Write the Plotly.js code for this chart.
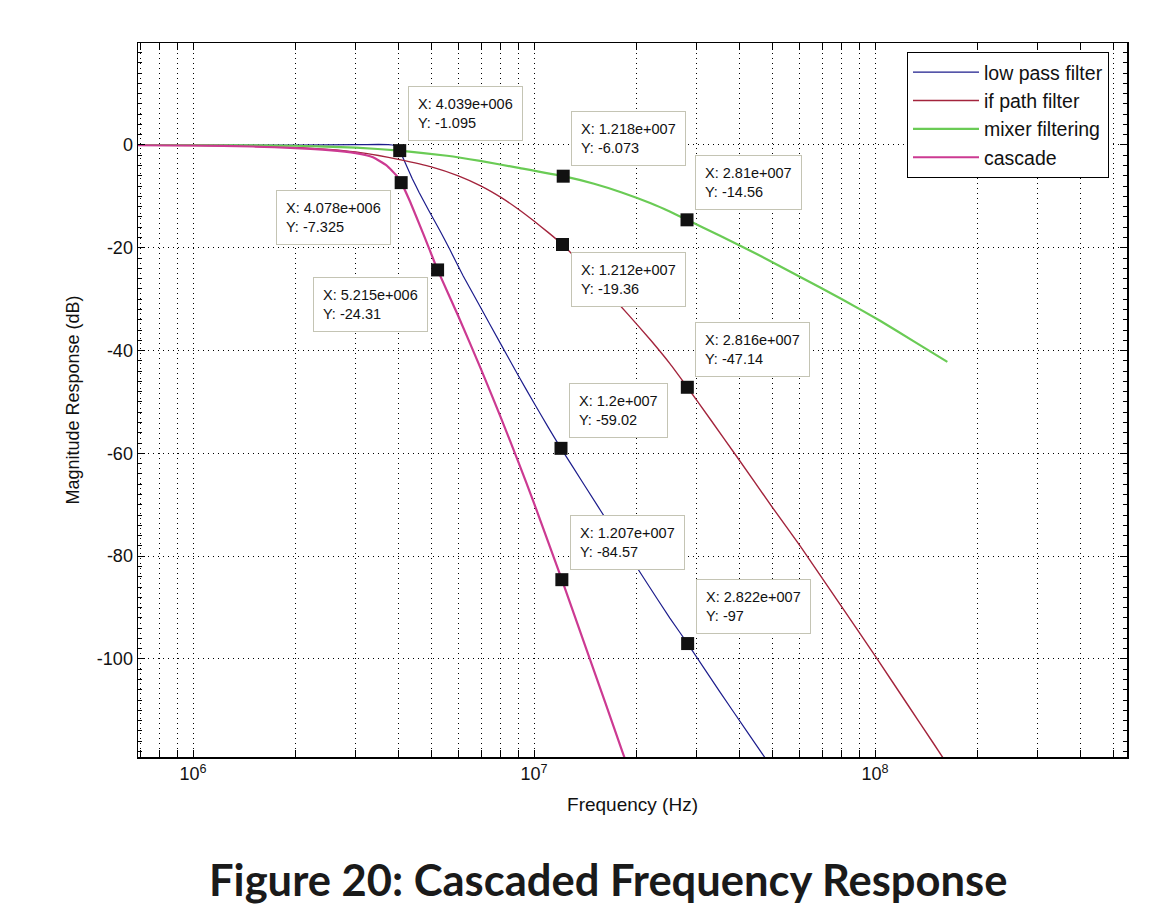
<!DOCTYPE html>
<html>
<head>
<meta charset="utf-8">
<script src="https://cdn.plot.ly/plotly-3.0.1.min.js"></script>
<style>
  html, body { margin: 0; padding: 0; background: #ffffff; }
  #chart { width: 1162px; height: 910px; }
</style>
</head>
<body>
<div id="chart"></div>
<script>
// ---- Data ----
const seriesNames = ["low pass filter", "if path filter", "mixer filtering", "cascade"];

const lpFreq = [6.9e5, 1e6, 2e6, 3e6, 3.5e6, 3.84e6, 3.96e6, 4.039e6, 4.2e6, 4.4e6, 4.6e6, 4.9e6, 5.3e6, 5.67e6, 6.2e6, 7.0e6, 8.0e6, 9.0e6, 1.0e7, 1.1e7, 1.2e7, 1.4e7, 1.7e7, 2.1e7, 2.5e7, 2.822e7, 3.5e7, 4.2e7, 4.7e7, 5.0e7];
const lpDb   = [0, 0, 0, 0.05, 0.1, 0, -0.4, -1.095, -3.6, -6.6, -9.2, -12.6, -16.7, -20.4, -25.5, -31.8, -38.8, -44.9, -50.2, -54.9, -59.02, -66.0, -74.8, -84.3, -92.0, -97, -106.3, -114.0, -118.7, -121.3];

const ifFreq = [6.9e5, 1e6, 1.5e6, 2e6, 2.5e6, 3e6, 3.5e6, 4e6, 5e6, 6e6, 7e6, 8e6, 9e6, 1e7, 1.1e7, 1.212e7, 1.4e7, 1.6e7, 1.89e7, 2.2e7, 2.5e7, 2.816e7, 3.3e7, 3.94e7, 5e7, 6.03e7, 8e7, 1.01e8, 1.25e8, 1.48e8, 1.6e8];
const ifDb   = [-0.05, -0.1, -0.25, -0.5, -0.85, -1.35, -2.05, -2.8, -4.25, -6.0, -8.0, -10.2, -12.5, -14.8, -17.0, -19.36, -23.6, -27.7, -33.0, -38.0, -42.5, -47.14, -53.5, -60.7, -70.5, -78.0, -89.9, -99.8, -109.0, -116.3, -119.7];

const mixFreq = [6.9e5, 1e6, 2e6, 3e6, 4.04e6, 5.56e6, 6.95e6, 9.1e6, 1.218e7, 1.5e7, 1.8e7, 2.2e7, 2.5e7, 2.81e7, 3.5e7, 4.5e7, 6e7, 8e7, 1.035e8, 1.3e8, 1.63e8];
const mixDb   = [0, 0, -0.15, -0.5, -1.1, -2.1, -3.1, -4.5, -6.073, -7.55, -9.2, -11.35, -12.95, -14.56, -17.6, -21.2, -25.6, -30.0, -34.2, -38.2, -42.2];

const casFreq = [6.9e5, 1e6, 1.5e6, 2e6, 2.5e6, 3e6, 3.37e6, 3.7e6, 3.96e6, 4.078e6, 4.3e6, 4.6e6, 4.9e6, 5.215e6, 6e6, 7e6, 8e6, 9e6, 1e7, 1.207e7, 1.43e7, 1.62e7, 1.82e7, 1.9e7];
const casDb   = [-0.05, -0.1, -0.3, -0.6, -1.0, -1.6, -2.4, -4.0, -6.0, -7.325, -10.55, -15.24, -19.76, -24.31, -33.32, -43.7, -53.1, -61.7, -69.67, -84.57, -98.4, -108.6, -118.2, -121.7];

// data tips
const tipX      = [4.039e6, 1.218e7, 2.81e7, 4.078e6, 5.215e6, 1.212e7, 2.816e7, 1.2e7, 1.207e7, 2.822e7];
const tipY      = [-1.095, -6.073, -14.56, -7.325, -24.31, -19.36, -47.14, -59.02, -84.57, -97];
const tipXLabel = ["4.039e+006", "1.218e+007", "2.81e+007", "4.078e+006", "5.215e+006", "1.212e+007", "2.816e+007", "1.2e+007", "1.207e+007", "2.822e+007"];
const tipYLabel = ["-1.095", "-6.073", "-14.56", "-7.325", "-24.31", "-19.36", "-47.14", "-59.02", "-84.57", "-97"];
const tipSide   = ["ur", "ur", "ur", "ll", "ll", "lr", "ur", "ur", "ur", "ur"];

// axis ticks
const xTickVals = [1e6, 1e7, 1e8];
const xTickText = ["10<sup>6</sup>", "10<sup>7</sup>", "10<sup>8</sup>"];
const xMinorVals = [7e5, 8e5, 9e5, 2e6, 3e6, 4e6, 5e6, 6e6, 7e6, 8e6, 9e6, 2e7, 3e7, 4e7, 5e7, 6e7, 7e7, 8e7, 9e7, 2e8, 3e8, 4e8, 5e8];
const yTickVals = [-100, -80, -60, -40, -20, 0];
const yTickText = ["-100", "-80", "-60", "-40", "-20", "0"];

const caption = "Figure 20: Cascaded Frequency Response";

// ---- Styles ----
const colors = ["#1c1c8c", "#a3243c", "#6acb55", "#cc3a92"];
const widths = [1.2, 1.4, 2.2, 2.2];
const FONT = "Liberation Sans, Arial, sans-serif";
const GRIDDASH = "1px,4px";

const series = [[lpFreq, lpDb], [ifFreq, ifDb], [mixFreq, mixDb], [casFreq, casDb]];
const traces = series.map((s, i) => ({
  type: "scatter", mode: "lines", name: seriesNames[i],
  x: s[0], y: s[1],
  line: { color: colors[i], width: widths[i], shape: "spline", smoothing: 0.4 },
  hoverinfo: "skip"
}));
traces.push({
  type: "scatter", mode: "markers", x: tipX, y: tipY, showlegend: false,
  marker: { symbol: "square", size: 13, color: "#111111" }, hoverinfo: "skip"
});

const annotations = tipX.map((xv, i) => {
  const side = tipSide[i];
  const a = {
    xref: "x", yref: "y", x: Math.log10(xv), y: tipY[i],
    text: "X: " + tipXLabel[i] + "<br>Y: " + tipYLabel[i],
    showarrow: false, align: "left",
    font: { family: FONT, size: 14.5, color: "#111111" },
    bgcolor: "#ffffff", bordercolor: "#c4c4b4", borderwidth: 1, borderpad: 9
  };
  if (side === "ur") { a.xanchor = "left"; a.yanchor = "bottom"; a.xshift = 8; a.yshift = 10; }
  if (side === "ll") { a.xanchor = "right"; a.yanchor = "top"; a.xshift = -10; a.yshift = -7; }
  if (side === "lr") { a.xanchor = "left"; a.yanchor = "top"; a.xshift = 9; a.yshift = -8; }
  return a;
});
annotations.push({
  xref: "paper", yref: "paper", x: (607.5 - 138) / 989, y: -(879 - 757) / 714,
  xanchor: "center", yanchor: "middle", showarrow: false,
  text: "<b>" + caption + "</b>",
  font: { family: "Lato, Open Sans, sans-serif", size: 43.5, color: "#1a1a1a" }
});

const axisCommon = {
  showline: true, linecolor: "#000000", linewidth: 1.5, mirror: "allticks",
  ticks: "inside", ticklen: 7, tickcolor: "#000000", tickwidth: 1,
  showgrid: true, gridcolor: "#000000", gridwidth: 1, griddash: GRIDDASH,
  zeroline: false, tickfont: { family: FONT, size: 18, color: "#111111" }
};

const layout = {
  width: 1162, height: 910,
  margin: { l: 138, r: 35, t: 43, b: 153 },
  paper_bgcolor: "#ffffff", plot_bgcolor: "#ffffff",
  showlegend: true,
  legend: {
    x: (907 - 138) / 989, y: 1 - (52 - 43) / 714, xanchor: "left", yanchor: "top",
    bgcolor: "#ffffff", bordercolor: "#000000", borderwidth: 1,
    itemwidth: 66,
    font: { family: FONT, size: 19.5, color: "#111111" }
  },
  xaxis: Object.assign({}, axisCommon, {
    type: "log", range: [5.8387, 8.739],
    tickmode: "array", tickvals: xTickVals, ticktext: xTickText,
    minor: { tickmode: "array", tickvals: xMinorVals, ticks: "inside", ticklen: 7, tickcolor: "#000000",
             showgrid: true, gridcolor: "#000000", gridwidth: 1, griddash: GRIDDASH },
    title: { text: "Frequency (Hz)", font: { family: FONT, size: 19, color: "#111111" }, standoff: 14 }
  }),
  yaxis: Object.assign({}, axisCommon, {
    range: [-119.07, 19.84],
    tickmode: "array", tickvals: yTickVals, ticktext: yTickText,
    minor: { dtick: 2, ticks: "inside", ticklen: 4, tickcolor: "#000000", showgrid: false },
    title: { text: "Magnitude Response (dB)", font: { family: FONT, size: 18, color: "#111111" }, standoff: 12 }
  }),
  annotations: annotations
};

Plotly.newPlot("chart", traces, layout, { displayModeBar: false, staticPlot: true });
</script>
</body>
</html>
